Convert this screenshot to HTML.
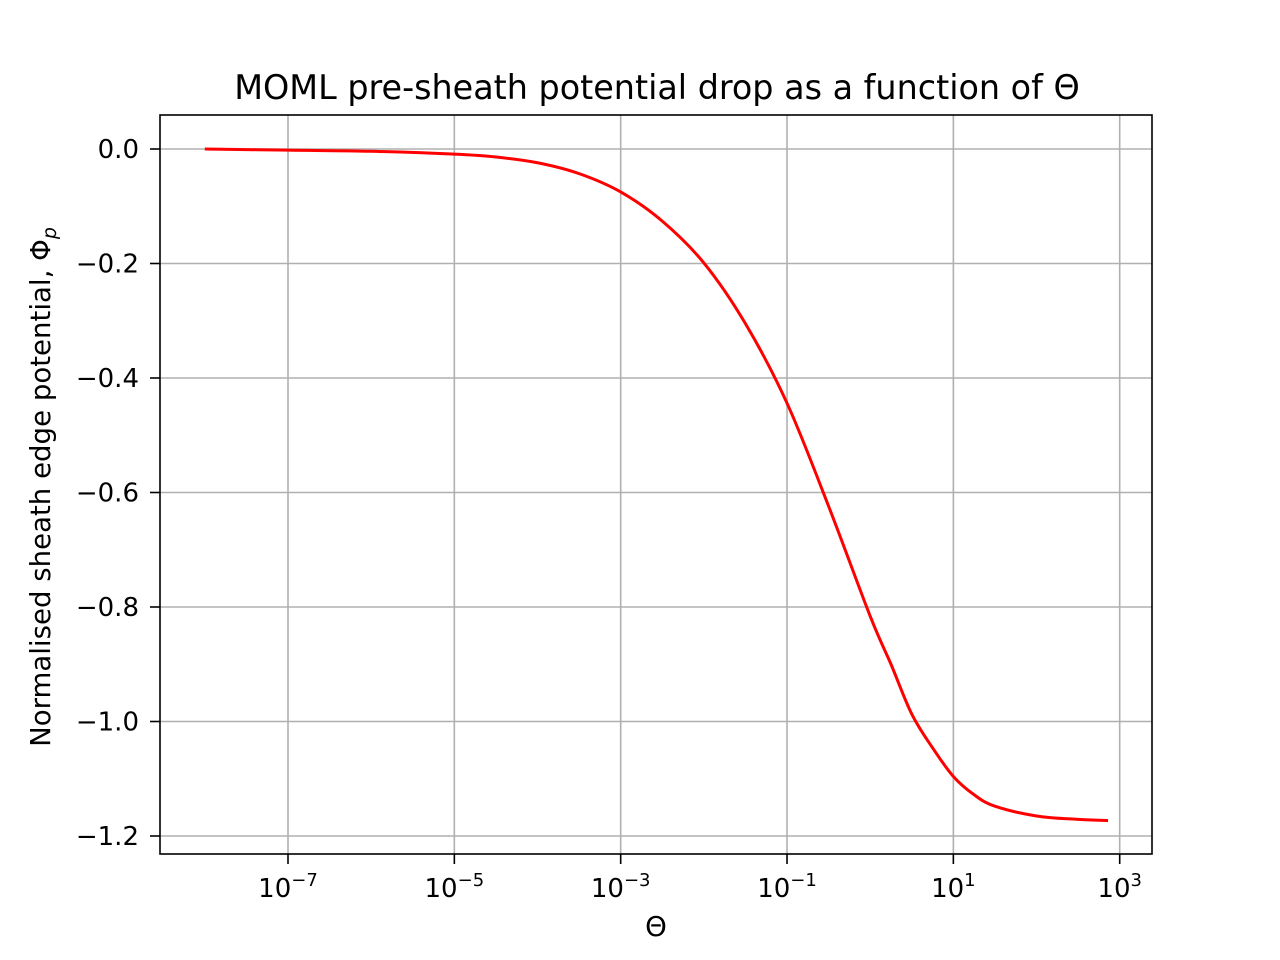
<!DOCTYPE html>
<html><head><meta charset="utf-8"><style>
html,body{margin:0;padding:0;background:#fff;}
svg{display:block;font-family:"DejaVu Sans","Liberation Sans",sans-serif;}
</style></head><body>
<svg id="chart" width="1280" height="960" viewBox="0 0 1280 960">
<rect width="1280" height="960" fill="#fff"/>
<g id="grid"></g>
<g id="series"></g>
<rect x="160" y="115" width="992" height="739" fill="none" stroke="#000" stroke-width="1.6"/>
<g id="xticks"></g>
<g id="yticks"></g>
<text x="657" y="99" style="font-size:33.4px" text-anchor="middle">MOML pre-sheath potential drop as a function of Θ</text>
<text x="656" y="936" style="font-size:27.6px" text-anchor="middle">Θ</text>
<text transform="translate(50,487) rotate(-90)" style="font-size:27.6px" text-anchor="middle">Normalised sheath edge potential, Φ<tspan style="font-size:19px;font-style:italic" dy="6">p</tspan></text>
</svg>
<script>
const logTheta = [-8, -7, -6, -5, -4.5, -4, -3.5, -3, -2.5, -2, -1.5, -1, -0.5, 0, 0.25, 0.5, 0.75, 1, 1.25, 1.5, 2, 2.5, 2.86];
const phiP = [0, -0.002, -0.004, -0.009, -0.014, -0.024, -0.043, -0.075, -0.126, -0.199, -0.305, -0.444, -0.624, -0.816, -0.90, -0.987, -1.046, -1.096, -1.128, -1.148, -1.165, -1.171, -1.173];
const xTickExps = [-7, -5, -3, -1, 1, 3];
const yTickVals = [0.0, -0.2, -0.4, -0.6, -0.8, -1.0, -1.2];
const yTickLabels = ["0.0", "−0.2", "−0.4", "−0.6", "−0.8", "−1.0", "−1.2"];

const NS = "http://www.w3.org/2000/svg";
const X = l => 288 + (l + 7) * 83.17;
const Y = v => 149 - v * 572.5;
function mk(tag, attrs, parent){const e=document.createElementNS(NS,tag);for(const k in attrs)e.setAttribute(k,attrs[k]);parent.appendChild(e);return e;}
const grid=document.getElementById('grid'), xt=document.getElementById('xticks'), yt=document.getElementById('yticks'), ser=document.getElementById('series');

xTickExps.forEach(e=>{
  const x=X(e);
  const g=mk('line',{x1:x,x2:x,y1:115,y2:854,stroke:'#b0b0b0','stroke-width':1.6},grid);
  
  
  const t=mk('line',{x1:x,x2:x,y1:854,y2:864,stroke:'#000','stroke-width':1.6},xt);
  
  
  const tx=mk('text',{x:x,y:897,'text-anchor':'middle',style:'font-size:26px'},xt);
  
  
  tx.textContent='10';
  const sp=mk('tspan',{dy:-11,style:'font-size:18px'},tx);
  sp.textContent=(e<0?'−':'')+Math.abs(e);
});
yTickVals.forEach((v,i)=>{
  const y=Y(v);
  const g=mk('line',{x1:160,x2:1152,y1:y,y2:y,stroke:'#b0b0b0','stroke-width':1.6},grid);
  
  
  const t=mk('line',{x1:150,x2:160,y1:y,y2:y,stroke:'#000','stroke-width':1.6},yt);
  
  
  const tx=mk('text',{x:139,y:y+9,'text-anchor':'end',style:'font-size:26px'},yt);
  
  
  tx.textContent=yTickLabels[i];
});
const pts=logTheta.map((l,i)=>[X(l),Y(phiP[i])]);
let d='M'+pts[0][0]+','+pts[0][1];
for(let i=0;i<pts.length-1;i++){
  const p0=pts[Math.max(0,i-1)],p1=pts[i],p2=pts[i+1],p3=pts[Math.min(pts.length-1,i+2)];
  const c1=[p1[0]+(p2[0]-p0[0])/6,p1[1]+(p2[1]-p0[1])/6];
  const c2=[p2[0]-(p3[0]-p1[0])/6,p2[1]-(p3[1]-p1[1])/6];
  d+=` C${c1[0]},${c1[1]} ${c2[0]},${c2[1]} ${p2[0]},${p2[1]}`;
}
const path=mk('path',{d:d,fill:'none',stroke:'#ff0000','stroke-width':3},ser);


</script>
</body></html>
